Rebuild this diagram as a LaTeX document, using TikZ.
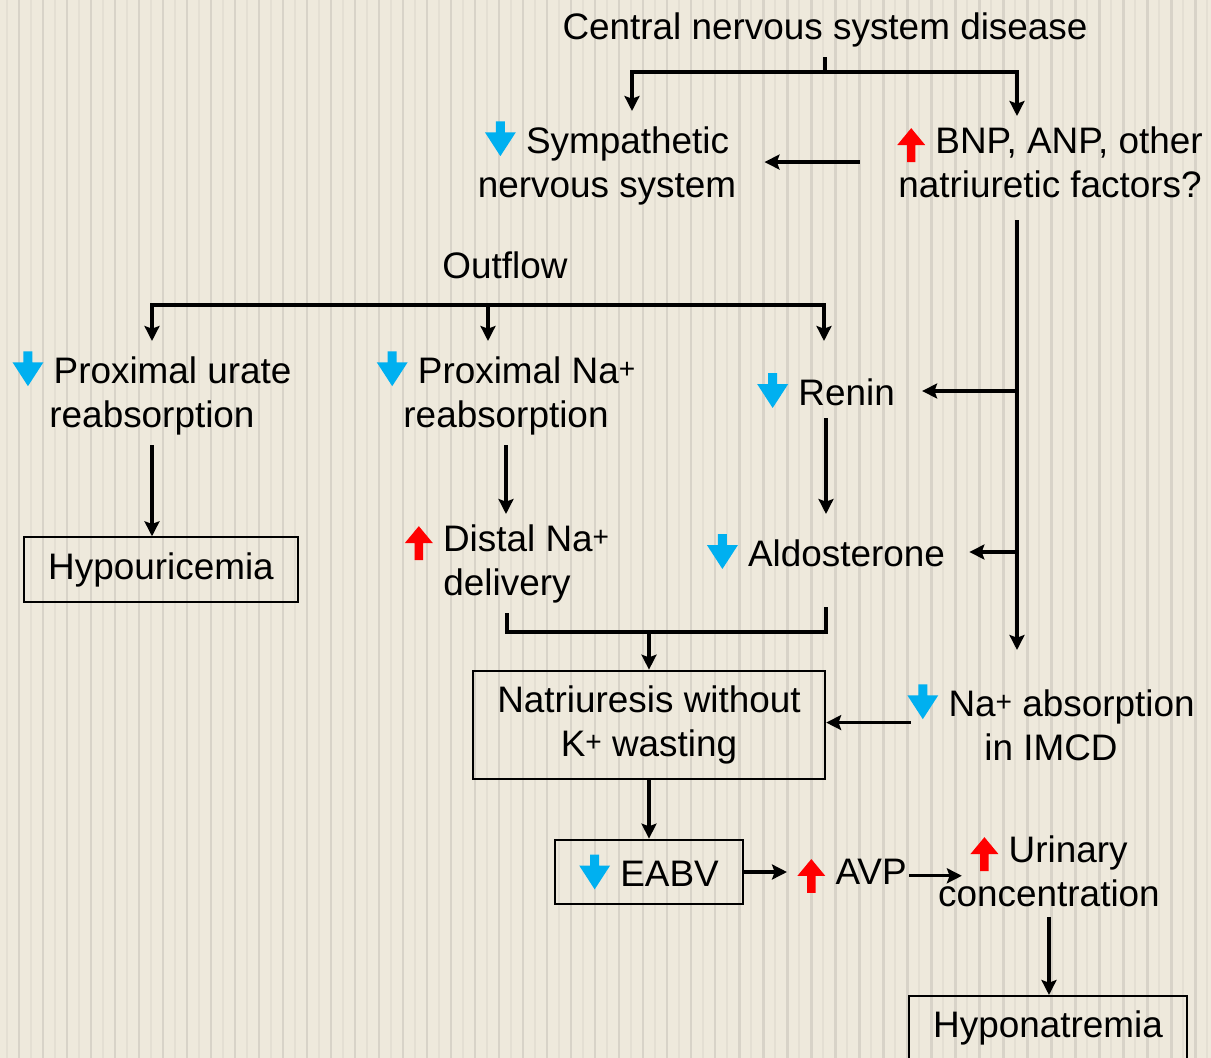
\documentclass[tikz,border=0pt]{standalone}
\usepackage{fontspec}
\setmainfont{Liberation Sans}
\usetikzlibrary{arrows.meta}
\definecolor{bgbeige}{RGB}{238,233,220}
\definecolor{stripedark}{RGB}{216,211,200}
\definecolor{stripelight}{RGB}{228,223,211}
\definecolor{downblue}{RGB}{0,176,240}
\definecolor{upred}{RGB}{255,0,0}
\newcommand{\icdown}{\tikz[baseline=1.7pt]\fill[downblue] (6.25pt,19.8pt) -- (11.35pt,19.8pt) -- (11.35pt,13.6pt) -- (17.6pt,13.6pt) -- (8.8pt,0pt) -- (0pt,13.6pt) -- (6.25pt,13.6pt) -- cycle;}
\newcommand{\icup}{\tikz[baseline=5.1pt]\fill[upred] (5.55pt,0pt) -- (10.35pt,0pt) -- (10.35pt,9.7pt) -- (15.9pt,9.7pt) -- (7.95pt,19.3pt) -- (0pt,9.7pt) -- (5.55pt,9.7pt) -- cycle;}
\newcommand{\ionplus}{\raisebox{2.8pt}{\fontsize{16}{16}\selectfont +}}

\begin{document}
\begin{tikzpicture}[x=0.02cm, y=-0.02cm,
  every node/.style={font=\fontsize{21}{25.2}\selectfont},
  txt/.style={align=center, inner sep=5.7pt},
  box/.style={draw, line width=1.2pt, align=center, inner xsep=13.9pt, inner ysep=8.5pt},
  conn/.style={line width=1.9pt},
  arr/.style={conn, -{Stealth[length=8.5pt, width=8.5pt, inset=1.5pt]}}]
% striped background
\useasboundingbox (0,0) rectangle (1211,1058);
\fill[bgbeige] (0,0) rectangle (1211,1058);
\foreach \sx in {0,24,...,1200} {
  \draw[stripedark, line width=1.7pt] (\sx+19,0) -- (\sx+19,1058);
  \draw[stripelight, line width=1.1pt] (\sx+7,0) -- (\sx+7,1058);
}

\node[txt, anchor=base] (cns) at (825,39) {Central nervous system disease};
\node[txt, anchor=north] (symp) at (607,111) {\icdown{} Sympathetic\\nervous system};
\node[txt, anchor=north] (bnp) at (1050,116) {\icup{} BNP, ANP, other\\natriuretic factors?};
\node[txt, anchor=base] (outflow) at (505,278) {Outflow};
\node[txt, anchor=north] (purate) at (152,341) {\icdown{} Proximal urate\\reabsorption};
\node[txt, anchor=north] (pna) at (506,341) {\icdown{} Proximal Na\ionplus\\reabsorption};
\node[txt, anchor=base] (renin) at (826,405) {\icdown{} Renin};
\node[box, anchor=base] (hypou) at (161,579) {Hypouricemia};
\node[txt, anchor=north] (distal) at (507,514) {\icup{} Distal Na\ionplus\\delivery};
\node[txt, anchor=base] (aldo) at (826,566) {\icdown{} Aldosterone};
\node[box] (natr) at (649,725) {Natriuresis without\\K\ionplus{} wasting};
\node[txt, anchor=north] (naabs) at (1051,674) {\icdown{} Na\ionplus{} absorption\\in IMCD};
\node[box] (eabv) at (649,872) {\icdown{} EABV};
\node[txt, anchor=base] (avp) at (852,884) {\icup{} AVP};
\node[txt, anchor=north] (urin) at (1049,825) {\icup{} Urinary\\concentration};
\node[box, anchor=north] (hypon) at (1048,995) {Hyponatremia};

% CNS split
\coordinate (cnsj) at (825,72);
\coordinate (sl) at (632,72);
\coordinate (sr) at (1017,72);
\draw[conn] (cns.south) -- (cnsj);
\draw[arr] (cnsj) -| (sl |- symp.north);
\draw[arr] (cnsj) -| (sr |- bnp.north);
\draw[arr, shorten <=0.54cm, shorten >=0.36cm] (bnp.west) -- (symp.east |- bnp.west);

% outflow
\coordinate (outl) at (152,305);
\coordinate (outm) at (488,305);
\coordinate (outr) at (824,305);
\draw[arr] (outm) -| (outl |- purate.north);
\draw[arr] (outm) -| (outr |- pna.north);
\draw[arr] (outm) -- (outm |- pna.north);
\draw[arr] (purate.south) -- (purate.south |- hypou.north);
\draw[arr] (pna.south) -- (pna.south |- distal.north);
\draw[arr] (renin.south) -- (renin.south |- distal.north);

% natriuretic factors trunk
\coordinate (rj) at (1017,391);
\coordinate (aj) at (1017,552);
\draw[arr, shorten <=0.24cm, shorten >=0.48cm] (sr |- bnp.south) -- (sr |- naabs.north);
\draw[arr, shorten >=0.34cm] (rj) -- (rj -| renin.east);
\draw[arr, shorten >=0.28cm] (aj) -- (aj -| aldo.east);

% bracket into natriuresis
\coordinate (brl) at (507,632);
\draw[conn, shorten <=0.56cm] (aldo.south) |- (brl) -- (distal.south);
\draw[arr] (natr.north |- brl) -- (natr.north);
\draw[arr, shorten <=-0.28cm] (naabs.west) -- (naabs.west -| natr.east);

% lower chain
\draw[arr] (natr.south) -- (eabv.north);
\draw[arr] (eabv.east) -- (eabv.east -| avp.west);
\draw[arr, shorten <=-0.16cm, shorten >=-0.68cm] (avp.east) -- (avp.east -| urin.west);
\draw[arr] (urin.south) -- (urin.south |- hypon.north);
\end{tikzpicture}
\end{document}
